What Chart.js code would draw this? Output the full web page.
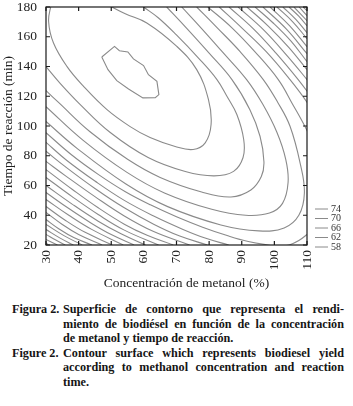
<!DOCTYPE html>
<html>
<head>
<meta charset="utf-8">
<script src="https://cdn.jsdelivr.net/npm/chart.js@4.4.1/dist/chart.umd.min.js"></script>
<style>
  html, body { margin: 0; padding: 0; background: #fff; }
  #wrap { position: relative; width: 353px; height: 406px; overflow: hidden; }
  #box { position: absolute; left: 0; top: 0; width: 353px; height: 291px; }
  .cap { position: absolute; left: 12px; width: 332px; font-family: 'Liberation Serif', 'DejaVu Serif', serif;
         font-weight: bold; font-size: 12.2px; line-height: 14.5px; color: #151515; }
  .row { display: flex; }
  .lab { width: 51px; flex: none; }
  .txt { width: 281px; }
  .txt div { text-align: justify; text-align-last: justify; white-space: nowrap; }
  .txt div.end { text-align-last: left; }
</style>
</head>
<body>
<div id="wrap">
  <div id="box"><canvas id="chart"></canvas></div>
  <div class="cap" style="top:302px">
    <div class="row"><div class="lab">Figura 2.</div>
      <div class="txt">
        <div>Superficie de contorno que representa el rendi-</div>
        <div>miento de biodiésel en función de la concentración</div>
        <div class="end">de metanol y tiempo de reacción.</div>
      </div>
    </div>
    <div class="row"><div class="lab">Figure 2.</div>
      <div class="txt">
        <div>Contour surface which represents biodiesel yield</div>
        <div>according to methanol concentration and reaction</div>
        <div class="end">time.</div>
      </div>
    </div>
  </div>
</div>
<script>
// axis ranges and ticks
const xTickValues = [30, 40, 50, 60, 70, 80, 90, 100, 110];
const yTickValues = [20, 40, 60, 80, 100, 120, 140, 160, 180];
const legendLevels = [74, 70, 66, 62, 58];
const xTitle = 'Concentración de metanol (%)';
const yTitle = 'Tiempo de reacción (min)';

// contour lines: [metanol %, tiempo min]
const line1 = [[47.1,146.4],[51.0,153.5],[52.5,150.6],[55.1,149.8],[56.8,145.1],[59.9,140.6],[61.4,134.5],[64.0,130.0],[64.6,121.1],[63.5,119.1],[59.7,118.9],[55.3,124.9],[51.7,130.5],[49.0,137.9],[47.1,146.4]];
const line2 = [[31.6,182],[30.8,170.3],[32.3,155.8],[36.4,140.1],[41.5,126.7],[48.7,111.0],[55.8,99.6],[61.9,92.2],[69.6,86.2],[75.1,84.2],[78.8,88.7],[80.6,101.0],[79.8,117.7],[76.2,137.9],[70.1,153.5],[60.9,169.3],[54.3,175.5],[48.5,182]];
const line3 = [[30,139.9],[34.4,128.5],[40.5,114.4],[49.7,95.6],[61.3,78.8],[72.7,69.4],[81.5,66.5],[87.5,69.5],[90.4,78.8],[90.6,90.9],[88.5,107.7],[85.5,119.8],[82.4,131.2],[76.6,146.0],[69.9,161.4],[64.4,172.8],[59.9,180]];
const line4 = [[30,123.8],[34,115.5],[43.4,96.3],[55,77.6],[65,65.4],[77.7,55.6],[86.7,52.3],[92.8,57],[96,66],[96.8,76],[95.6,93.1],[92.5,111],[87,131.2],[80,149],[73,166],[67,180]];
const line5 = [[30,113],[41.3,90.5],[54.7,69],[66.3,55],[80.8,44],[91.2,40],[98.5,41.5],[102.5,48],[104.2,62],[103.5,77.4],[100.8,95.6],[96.5,114.4],[91.5,131.2],[84,150],[77.5,166],[71.6,180]];
const line6 = [[30,103],[39.5,85],[54.5,61],[67.3,45.8],[83.6,33.5],[95.2,29.5],[103,31.5],[107.5,40],[109.2,55],[108,74],[104.8,99.8],[101,116],[96.6,131.2],[89.5,150],[82.5,166],[76.2,180]];
const line7 = [[30,95.5],[37.9,80.5],[46,67.5],[54.2,56],[62,47],[70,39],[78,32],[86,26],[92,22.3],[98,20],[101.3,19.3],[104.5,20],[107.5,23],[110,27.1],[112.5,32]];
const line7b = [[113,82],[110,97],[105.5,115],[101.2,131.2],[94,150],[87,166],[79.6,180]];
const line8 = [[30,89],[36.3,77],[45,63],[54,50],[63,39.5],[72,30.5],[79,24.5],[86,20]];
const line8b = [[112,108],[110,116],[104.8,131.2],[97.5,150],[90,166],[83.1,180]];
const line9 = [[30,83],[36,72.5],[45,58],[54,45],[63,34],[71,26],[79.5,20]];
const line9b = [[111.5,119],[107.3,131.2],[100.5,149],[93.5,165.5],[86.1,180]];
const line10 = [[30,76.2],[36,66.5],[45,52.5],[54,39.5],[63,29],[74,20]];
const line10b = [[111.5,127],[110,131.2],[104,147],[97,164],[88.9,180]];
const line11 = [[30,70.7],[38,57.5],[46,45],[54,34],[61,26.5],[69,20]];
const line11b = [[110,137.9],[104.4,152.9],[98.2,167],[91.6,180]];
const line12 = [[30,65.4],[38,52.5],[46,40.5],[54,30],[64.5,20]];
const line12b = [[110,143.3],[105.1,157],[99.8,168.9],[94.1,180]];
const line13 = [[30,60],[38,47.5],[46,36],[53,27.5],[60.5,20]];
const line13b = [[110,148.6],[103.7,165.1],[96.5,180]];
const line14 = [[30,55.3],[37,44.5],[44,34.5],[50,27],[57,20]];
const line14b = [[110,153.3],[104.7,167.3],[98.7,180]];
const line15 = [[30,50.6],[37,40],[44,30.5],[53.7,20]];
const line15b = [[110,158.7],[105.7,169.9],[100.8,180]];
const line16 = [[30,45.9],[36,36.5],[42,28.5],[50.3,20]];
const line16b = [[110,162.7],[106.5,171.8],[102.6,180]];
const line17 = [[30,41.9],[35,33.8],[40,27],[47.2,20]];
const line17b = [[110,167.4],[107.4,174],[104.5,180]];
const line18 = [[30,37.1],[34,30.8],[38.5,25],[44.1,20]];
const line18b = [[110,170.8],[106,180]];
const line19 = [[30,33.8],[35.5,26.3],[41.1,20]];
const line19b = [[110,174.2],[107.6,180]];
const line20 = [[30,30.4],[34.2,24.8],[38.4,20]];
const line20b = [[110,177.5],[108.8,180]];
const line21 = [[30,27.1],[33,23.3],[35.9,20]];
const line22 = [[30,23.7],[33.5,20]];
const line23 = [[30,21.5],[30.7,20]];

const contourLines = [line1, line2, line3, line4, line5, line6, line7, line7b, line8, line8b,
  line9, line9b, line10, line10b, line11, line11b, line12, line12b, line13, line13b,
  line14, line14b, line15, line15b, line16, line16b, line17, line17b, line18, line18b,
  line19, line19b, line20, line20b, line21, line22, line23];

const lineColor = '#8a8a8a';
const serif = "'Liberation Serif', 'DejaVu Serif', serif";

// frame, inward ticks, x title and the level legend
const framePlugin = {
  id: 'frame',
  afterDatasetsDraw(chart) {
    const { ctx, chartArea: a, scales } = chart;
    ctx.save();
    ctx.strokeStyle = '#1a1a1a';
    ctx.lineWidth = 1.2;
    ctx.strokeRect(a.left, a.top, a.right - a.left, a.bottom - a.top);
    ctx.beginPath();
    xTickValues.forEach(v => {
      const px = scales.x.getPixelForValue(v);
      ctx.moveTo(px, a.bottom); ctx.lineTo(px, a.bottom - 4);
      ctx.moveTo(px, a.top); ctx.lineTo(px, a.top + 4);
    });
    yTickValues.forEach(v => {
      const py = scales.y.getPixelForValue(v);
      ctx.moveTo(a.left, py); ctx.lineTo(a.left + 4, py);
      ctx.moveTo(a.right, py); ctx.lineTo(a.right - 4, py);
    });
    ctx.stroke();

    ctx.fillStyle = '#222';
    ctx.font = '13.5px ' + serif;
    ctx.textAlign = 'center';
    ctx.textBaseline = 'middle';
    ctx.fillText(xTitle, (a.left + a.right) / 2 + 10, a.bottom + 38);

    ctx.font = '10px ' + serif;
    ctx.textAlign = 'left';
    ctx.fillStyle = '#333';
    ctx.strokeStyle = lineColor;
    ctx.lineWidth = 1;
    legendLevels.forEach((lv, i) => {
      const y = a.bottom - 36 + i * 9.5;
      ctx.beginPath();
      ctx.moveTo(a.right + 8, y); ctx.lineTo(a.right + 21, y);
      ctx.stroke();
      ctx.fillText(String(lv), a.right + 24, y);
    });
    ctx.restore();
  }
};

new Chart(document.getElementById('chart'), {
  type: 'scatter',
  data: {
    datasets: contourLines.map(pts => ({
      data: pts.map(([x, y]) => ({ x, y })),
      showLine: true,
      borderColor: lineColor,
      borderWidth: 1.1,
      pointRadius: 0,
      tension: pts === line1 ? 0 : 0.4,
    })),
  },
  options: {
    responsive: true,
    maintainAspectRatio: false,
    animation: false,
    layout: { padding: { top: 7, right: 46, left: 0, bottom: 0 } },
    elements: { line: { capBezierPoints: false } },
    plugins: { legend: { display: false }, tooltip: { enabled: false } },
    scales: {
      x: {
        type: 'linear', min: 30, max: 110,
        grid: { display: false, drawTicks: false },
        border: { display: false },
        ticks: { stepSize: 10, minRotation: 90, maxRotation: 90, padding: 5,
                 color: '#222', font: { family: serif, size: 13.5 } },
        afterFit(scale) { scale.height = 46; scale.paddingLeft = 0; scale.paddingRight = 0; },
      },
      y: {
        type: 'linear', min: 20, max: 180,
        grid: { display: false, drawTicks: false },
        border: { display: false },
        ticks: { stepSize: 20, padding: 9, color: '#222', font: { family: serif, size: 13.5 } },
        title: { display: true, text: yTitle, color: '#222',
                 padding: 0, font: { family: serif, size: 13.5 } },
        afterFit(scale) { scale.width = 46; scale.paddingTop = 0; scale.paddingBottom = 0; },
      },
    },
  },
  plugins: [framePlugin],
});
</script>
</body>
</html>
